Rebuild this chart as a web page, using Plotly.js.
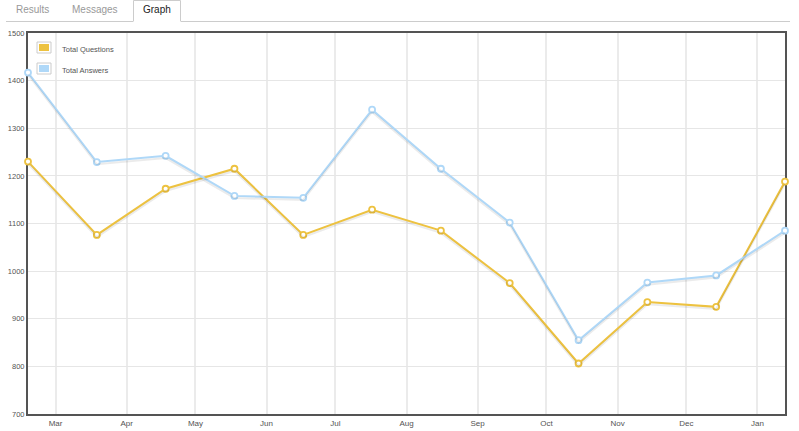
<!DOCTYPE html>
<html>
<head>
<meta charset="utf-8">
<script src="https://cdn.plot.ly/plotly-3.0.1.min.js"></script>
<style>
  html, body { margin: 0; padding: 0; background: #fff; }
  #chart { width: 799px; height: 431px; }
</style>
</head>
<body>
<div id="chart"></div>
<script>
// ---- data ----
const dates = ['2011-02-17','2011-03-19','2011-04-18','2011-05-18','2011-06-17','2011-07-17',
               '2011-08-16','2011-09-15','2011-10-15','2011-11-14','2011-12-14','2012-01-13'];
const totalQuestions = [1230, 1076, 1173, 1215, 1076, 1129, 1085, 975, 806, 935, 925, 1188];
const totalAnswers   = [1417, 1229, 1242, 1158, 1154, 1339, 1215, 1102, 855, 976, 991, 1085];
const seriesNames = ['Total Questions', 'Total Answers'];
const tabLabels = ['Results', 'Messages', 'Graph'];
const yTicks = [700, 800, 900, 1000, 1100, 1200, 1300, 1400, 1500];

// ---- styles ----
const yellow = '#edc240';
const blue = '#afd8f8';
const font = 'Liberation Sans, Arial, sans-serif';

// plot area in px: left 28, right 785, top 33, bottom 414
const L = 28, R = 785, T = 33, B = 414, W = 799, H = 431;
const px = x => (x - L) / (R - L);
const py = y => (B - y) / (B - T);
const pxPerUnit = (B - T) / (1500 - 700);

function shadowTrace(yv, yaxis) {
  return {x: dates, y: yv, type: 'scatter', mode: 'lines', yaxis: yaxis,
          line: {color: 'rgba(0,0,0,0.08)', width: 2}, hoverinfo: 'skip', showlegend: false};
}
function seriesTrace(yv, color, name) {
  return {x: dates, y: yv, type: 'scatter', mode: 'lines+markers', name: name,
          line: {color: color, width: 2},
          marker: {symbol: 'circle', size: 6, color: '#ffffff', line: {color: color, width: 1.8}},
          cliponaxis: false, showlegend: false};
}

const traces = [
  shadowTrace(totalQuestions, 'y2'),
  shadowTrace(totalAnswers, 'y2'),
  seriesTrace(totalQuestions, yellow, seriesNames[0]),
  seriesTrace(totalAnswers, blue, seriesNames[1])
];

const d2 = 2.2 / pxPerUnit;

const shapes = [
  // tab bar baseline (with gap under Graph tab)
  {type: 'line', xref: 'paper', yref: 'paper', x0: px(6), x1: px(133), y0: py(21.5), y1: py(21.5),
   line: {color: '#cccccc', width: 1}},
  {type: 'line', xref: 'paper', yref: 'paper', x0: px(181), x1: px(790), y0: py(21.5), y1: py(21.5),
   line: {color: '#cccccc', width: 1}},
  // Graph tab outline
  {type: 'path', xref: 'paper', yref: 'paper',
   path: `M ${px(133.5)} ${py(21.5)} L ${px(133.5)} ${py(0.5)} L ${px(180.5)} ${py(0.5)} L ${px(180.5)} ${py(21.5)}`,
   line: {color: '#cccccc', width: 1}},
  // legend swatches
  {type: 'rect', xref: 'paper', yref: 'paper', x0: px(37), x1: px(51), y0: py(42), y1: py(53),
   line: {color: '#cccccc', width: 1}, fillcolor: '#ffffff'},
  {type: 'rect', xref: 'paper', yref: 'paper', x0: px(39), x1: px(49), y0: py(44), y1: py(51),
   line: {width: 0}, fillcolor: yellow},
  {type: 'rect', xref: 'paper', yref: 'paper', x0: px(37), x1: px(51), y0: py(63), y1: py(74),
   line: {color: '#cccccc', width: 1}, fillcolor: '#ffffff'},
  {type: 'rect', xref: 'paper', yref: 'paper', x0: px(39), x1: px(49), y0: py(65), y1: py(72),
   line: {width: 0}, fillcolor: blue}
];

const annotations = [
  {text: tabLabels[0], x: px(32), y: py(10), color: '#999999'},
  {text: tabLabels[1], x: px(95), y: py(10), color: '#999999'},
  {text: tabLabels[2], x: px(157), y: py(10), color: '#222222'}
].map(a => ({xref: 'paper', yref: 'paper', x: a.x, y: a.y, text: a.text, showarrow: false,
             xanchor: 'center', yanchor: 'middle', font: {family: font, size: 10, color: a.color}}));

annotations.push(
  {xref: 'paper', yref: 'paper', x: px(60), y: py(50), text: seriesNames[0], showarrow: false,
   xanchor: 'left', yanchor: 'middle', font: {family: font, size: 7.5, color: '#545454'}},
  {xref: 'paper', yref: 'paper', x: px(60), y: py(71), text: seriesNames[1], showarrow: false,
   xanchor: 'left', yanchor: 'middle', font: {family: font, size: 7.5, color: '#545454'}}
);

const layout = {
  width: W, height: H,
  margin: {l: L, r: W - R, t: T, b: H - B, pad: 0},
  paper_bgcolor: '#ffffff', plot_bgcolor: '#ffffff',
  font: {family: font, color: '#545454'},
  showlegend: false,
  xaxis: {
    type: 'date', range: [dates[0], dates[dates.length - 1]],
    tick0: '2011-03-01', dtick: 'M1', tickformat: '%b',
    ticks: '', showgrid: true, gridcolor: '#ebebeb', gridwidth: 2,
    showline: true, mirror: true, linecolor: '#545454', linewidth: 2,
    zeroline: false, layer: 'below traces',
    tickfont: {family: font, size: 8, color: '#545454'}
  },
  yaxis: {
    range: [700, 1500], tickvals: yTicks, ticks: '',
    showgrid: true, gridcolor: '#e6e6e6', gridwidth: 1,
    showline: true, mirror: true, linecolor: '#545454', linewidth: 2,
    zeroline: false, layer: 'below traces',
    tickfont: {family: font, size: 7.5, color: '#545454'}
  },
  yaxis2: {range: [700 + d2, 1500 + d2], overlaying: 'y', visible: false, fixedrange: true},
  shapes: shapes,
  annotations: annotations
};

Plotly.newPlot('chart', traces, layout, {displayModeBar: false, staticPlot: true});
</script>
</body>
</html>
